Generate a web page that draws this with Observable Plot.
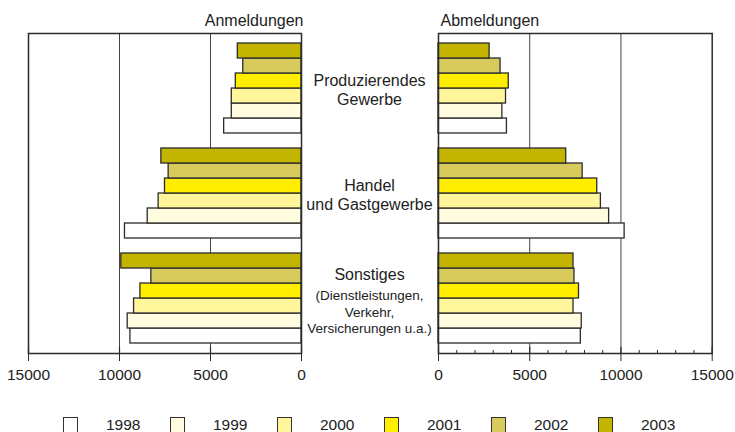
<!DOCTYPE html>
<html>
<head>
<meta charset="utf-8">
<script src="https://cdn.jsdelivr.net/npm/d3@7"></script>
<script src="https://cdn.jsdelivr.net/npm/@observablehq/plot@0.6"></script>
<style>
  html, body { margin: 0; padding: 0; background: #fff; }
  #chart { position: relative; width: 735px; height: 432px; overflow: hidden; background: #fff;
    font-family: "Liberation Sans", Arial, Helvetica, sans-serif; color: #222; }
  #chart svg { position: absolute; top: 0; overflow: visible; }
  #legend { position: absolute; top: 416px; left: 63px; display: flex; font-size: 15.5px; }
  .item { width: 107px; display: flex; align-items: center; }
  .sw { width: 13px; height: 14px; border: 1.5px solid #333; margin-right: 28px; }
</style>
</head>
<body>
<div id="chart"><div id="legend"></div></div>
<script>
const categories = ["Produzierendes Gewerbe", "Handel und Gastgewerbe", "Sonstiges"];
const years = [1998, 1999, 2000, 2001, 2002, 2003];
const colors = ["#ffffff", "#fffce0", "#fff59a", "#ffee00", "#d8ca5c", "#c3b400"];

// Anmeldungen (values per year 1998..2003)
const anmProduzierend = [4250, 3830, 3830, 3610, 3200, 3500];
const anmHandel       = [9700, 8450, 7850, 7500, 7300, 7700];
const anmSonstiges    = [9400, 9550, 9200, 8850, 8250, 9900];
// Abmeldungen
const abmProduzierend = [3750, 3500, 3700, 3850, 3400, 2800];
const abmHandel       = [10200, 9350, 8900, 8700, 7900, 7000];
const abmSonstiges    = [7800, 7850, 7400, 7700, 7450, 7400];

const xTicks = [0, 5000, 10000, 15000];
const minorTicks = d3.range(1000, 15000, 1000).filter(d => d % 5000 !== 0);

const mainLabels = ["Produzierendes\nGewerbe", "Handel\nund Gastgewerbe"];
const sonstLabel = "Sonstiges";
const sonstSub = "(Dienstleistungen,\nVerkehr,\nVersicherungen u.a.)";

function rows(seriesList) {
  const out = [];
  categories.forEach((c, ci) => {
    years.forEach((y, yi) => out.push({cat: c, year: y, key: c + "|" + y, value: seriesList[ci][yi]}));
  });
  return out;
}
const anm = rows([anmProduzierend, anmHandel, anmSonstiges]);
const abm = rows([abmProduzierend, abmHandel, abmSonstiges]);

// band domain: each category's years top (2003) to bottom (1998), gap bands between groups
const yDomain = [];
categories.forEach((c, ci) => {
  if (ci > 0) yDomain.push("gap" + ci);
  years.slice().reverse().forEach(y => yDomain.push(c + "|" + y));
});

const font = "'Liberation Sans', Arial, Helvetica, sans-serif";
const common = {
  height: 400, marginTop: 33, marginBottom: 47,
  y: {domain: yDomain, paddingInner: 0, paddingOuter: 0.5, axis: null},
  color: {domain: years, range: colors},
  style: {fontFamily: font, fontSize: "15.5px", color: "#222", background: "transparent", overflow: "visible"}
};

function bars(data) {
  return Plot.barX(data, {x: "value", y: "key", fill: "year", stroke: "#2b2b2b", strokeWidth: 1.3});
}

const left = Plot.plot({
  ...common,
  width: 438, marginLeft: 28, marginRight: 137,
  x: {domain: [0, 15000], reverse: true, label: null},
  marks: [
    Plot.ruleX([5000, 10000], {stroke: "#444", strokeWidth: 1}),
    bars(anm),
    Plot.frame({stroke: "#2b2b2b", strokeWidth: 1.5}),
    Plot.tickX(xTicks, {x: d => d, stroke: "#2b2b2b", strokeWidth: 1.2, insetTop: 314}),
    Plot.axisX({ticks: xTicks, tickSize: 8, tickPadding: 7, tickFormat: d3.format("d"), label: null, stroke: "#2b2b2b", fontSize: 15.5}),
    Plot.text(["Anmeldungen"], {frameAnchor: "top-right", dy: -19, dx: 2, textAnchor: "end", fontSize: 16}),
    Plot.text(mainLabels, {x: 0, y: (d, i) => categories[i] + "|2001", dx: 68, dy: 8.5, fontSize: 16, lineHeight: 1.2, textAnchor: "middle"}),
    Plot.text([sonstLabel], {x: 0, y: () => categories[2] + "|2001", dx: 68, dy: -16, fontSize: 16, textAnchor: "middle"}),
    Plot.text([sonstSub], {x: 0, y: () => categories[2] + "|2001", dx: 68, dy: 20.5, fontSize: 13.5, lineHeight: 1.22, textAnchor: "middle"})
  ]
});

const right = Plot.plot({
  ...common,
  width: 317, marginLeft: 20, marginRight: 23.3,
  x: {domain: [0, 15000], label: null},
  marks: [
    Plot.ruleX([5000, 10000], {stroke: "#444", strokeWidth: 1}),
    bars(abm),
    Plot.frame({stroke: "#2b2b2b", strokeWidth: 1.5}),
    Plot.tickX(minorTicks, {x: d => d, stroke: "#2b2b2b", strokeWidth: 1, insetTop: 317}),
    Plot.tickX(xTicks, {x: d => d, stroke: "#2b2b2b", strokeWidth: 1.2, insetTop: 314}),
    Plot.axisX({ticks: xTicks, tickSize: 8, tickPadding: 7, tickFormat: d3.format("d"), label: null, stroke: "#2b2b2b", fontSize: 15.5}),
    Plot.text(["Abmeldungen"], {frameAnchor: "top-left", dy: -19, dx: 2, textAnchor: "start", fontSize: 16})
  ]
});

const chart = document.getElementById("chart");
left.style.left = "0px";
right.style.left = "418px";
chart.appendChild(left);
chart.appendChild(right);

const legend = document.getElementById("legend");
years.forEach((y, i) => {
  const item = document.createElement("div");
  item.className = "item";
  const sw = document.createElement("div");
  sw.className = "sw";
  sw.style.background = colors[i];
  const lab = document.createElement("span");
  lab.textContent = String(y);
  item.appendChild(sw);
  item.appendChild(lab);
  legend.appendChild(item);
});
</script>
</body>
</html>
